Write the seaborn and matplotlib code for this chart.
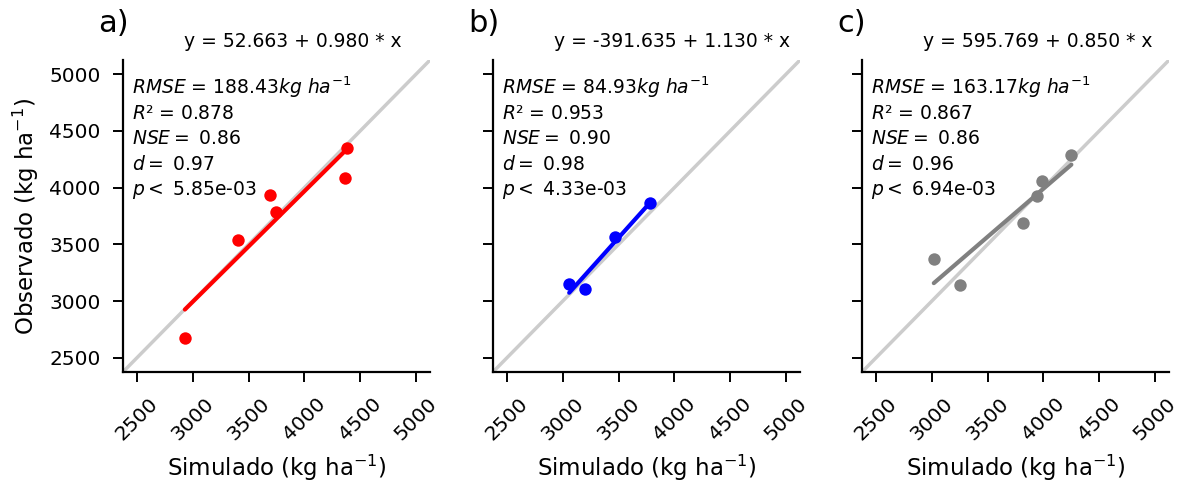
import numpy as np
import pandas as pd
import matplotlib
matplotlib.use("Agg")
import matplotlib.pyplot as plt
import seaborn as sns

sns.set_style("ticks")
plt.rcParams['font.family'] = ['DejaVu Sans']
plt.rcParams.update({"text.color": "black", "axes.labelcolor": "black",
                     "xtick.color": "black", "ytick.color": "black",
                     "axes.edgecolor": "black"})

# Data
sim_a = [2930, 3405, 3692, 3745, 4382, 4364]
obs_a = [2674, 3535, 3935, 3787, 4352, 4083]
sim_b = [3058, 3198, 3466, 3779]
obs_b = [3152, 3109, 3561, 3865]
sim_c = [3018, 3250, 3813, 3946, 3991, 4250]
obs_c = [3370, 3143, 3691, 3926, 4056, 4291]

panels = ["a)", "b)", "c)"]
colors = ["red", "blue", "gray"]
equations = ["y = 52.663 + 0.980 * x",
             "y = -391.635 + 1.130 * x",
             "y = 595.769 + 0.850 * x"]
rmse = ["188.43", "84.93", "163.17"]
r2 = ["0.878", "0.953", "0.867"]
nse = ["0.86", "0.90", "0.86"]
dval = ["0.97", "0.98", "0.96"]
pval = ["5.85e-03", "4.33e-03", "6.94e-03"]
ticks = [2500, 3000, 3500, 4000, 4500, 5000]
lims = (2375, 5125)

sims = [sim_a, sim_b, sim_c]
obss = [obs_a, obs_b, obs_c]

fig = plt.figure(figsize=(11.81, 4.84), dpi=100)
lefts = [0.1041, 0.4174, 0.7299]
axes = [fig.add_axes([l, 0.2314, 0.26, 0.6446]) for l in lefts]

for i, ax in enumerate(axes):
    ax.plot(lims, lims, color="#cccccc", lw=2.5, zorder=0)
    df = pd.DataFrame({"sim": sims[i], "obs": obss[i]})
    sns.regplot(data=df, x="sim", y="obs", ax=ax, ci=None, color=colors[i],
                scatter_kws={"s": 80, "alpha": 1, "linewidths": 0},
                line_kws={"lw": 3})
    ax.set_xlim(lims)
    ax.set_ylim(lims)
    ax.set_xticks(ticks)
    ax.set_yticks(ticks)
    ax.tick_params(axis="x", labelrotation=45, labelsize=14.5, length=7.5,
                   width=1.4, pad=8.5)
    ax.tick_params(axis="y", labelsize=14.5, length=7.5, width=1.4, pad=8.5)
    for lab in ax.get_xticklabels():
        lab.set_ha("center")
    for sp in ax.spines.values():
        sp.set_linewidth(1.6)
    sns.despine(ax=ax)
    ax.set_xlabel("Simulado (kg ha$^{-1}$)", fontsize=16.5, labelpad=6)
    if i == 0:
        ax.set_ylabel("Observado (kg ha$^{-1}$)", fontsize=16.5, labelpad=6)
    else:
        ax.set_ylabel("")
        ax.set_yticklabels([])
    ax.text(-0.08, 1.07, panels[i], transform=ax.transAxes, fontsize=22,
            ha="left", va="bottom")
    ax.text(0.2, 1.03, equations[i], transform=ax.transAxes, fontsize=13.5,
            ha="left", va="bottom")
    lines = [r"$RMSE$ = " + rmse[i] + r"$kg\ ha^{-1}$",
             r"$R$² = " + r2[i],
             r"$NSE = $ " + nse[i],
             r"$d = $ " + dval[i],
             r"$p < $ " + pval[i]]
    for k, t in enumerate(lines):
        ax.text(0.03, 0.912 - k * 0.082, t, transform=ax.transAxes,
                fontsize=13.5, ha="left", va="center")

fig.savefig("out.png", dpi=100)
